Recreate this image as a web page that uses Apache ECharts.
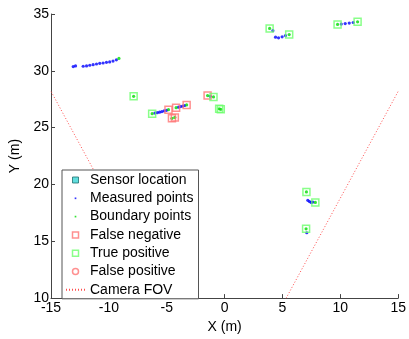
<!DOCTYPE html>
<html>
<head>
<meta charset="utf-8">
<script src="https://cdn.jsdelivr.net/npm/echarts@6/dist/echarts.min.js"></script>
<style>
  html, body { margin: 0; padding: 0; background: #fff; }
  #chart { width: 409px; height: 339px; }
</style>
</head>
<body>
<div id="chart"></div>
<script>
// axis ranges (m)
var xMin = -15, xMax = 15, xStep = 5;
var yMin = 10, yMax = 35, yStep = 5;

// legend / series names
var names = ['Sensor location', 'Measured points', 'Boundary points',
             'False negative', 'True positive', 'False positive', 'Camera FOV'];

// sensor is at the origin, below the visible area
var sensorLocation = [];

var measuredPoints = [
  [-13.08, 30.37], [-12.88, 30.43], [-12.22, 30.40], [-11.93, 30.43], [-11.65, 30.49],
  [-11.36, 30.54], [-11.07, 30.60], [-10.79, 30.66], [-10.50, 30.69], [-10.21, 30.75],
  [-9.93, 30.78], [-9.64, 30.86], [-9.35, 30.97],
  [-6.02, 26.28], [-5.82, 26.32], [-5.62, 26.36], [-5.42, 26.41], [-5.22, 26.47], [-5.02, 26.52],
  [-3.98, 26.80], [-3.80, 26.85], [-3.62, 26.90], [-3.45, 26.95],
  [-1.24, 27.76],
  [4.17, 33.53], [4.40, 32.96], [4.66, 32.90], [4.97, 32.99], [5.26, 33.10],
  [10.08, 34.11], [10.42, 34.16], [10.77, 34.20], [11.11, 34.25],
  [7.19, 18.60], [7.33, 18.50], [7.47, 18.42], [7.62, 18.45],
  [7.10, 15.75]
];

var boundaryPoints = [
  [-9.13, 31.09], [-7.86, 27.76], [-6.26, 26.23], [-4.85, 26.58], [-4.19, 26.76],
  [-3.28, 27.00], [-4.55, 25.82], [-4.30, 25.90], [-1.47, 27.82], [-0.96, 27.70],
  [-0.47, 26.66], [-0.33, 26.61], [3.89, 33.73], [5.58, 33.19], [9.76, 34.08],
  [11.49, 34.31], [7.07, 19.34], [7.84, 18.42], [7.04, 16.10]
];

var falseNegative = [
  [-4.85, 26.58], [-4.19, 26.76], [-3.28, 27.00], [-4.55, 25.82], [-4.30, 25.90], [-1.47, 27.82]
];

var truePositive = [
  [-7.86, 27.76], [-6.26, 26.23], [-0.96, 27.70], [-0.47, 26.66], [-0.33, 26.61],
  [3.89, 33.73], [5.58, 33.19], [9.76, 34.08], [11.49, 34.31],
  [7.07, 19.34], [7.84, 18.42], [7.04, 16.10]
];

var falsePositive = [];

// camera field of view edges, from the sensor outwards
var fovLeft = [[0, 0], [-15, 28.2]];
var fovRight = [[0, 0], [15, 28.2]];

var myChart = echarts.init(document.getElementById('chart'));

var font = 'Liberation Sans, Arial, sans-serif';
var squarePath = 'path://M0,0H10V10H0Z';
// small dot inside a 10x10 box (the moveTo points keep the box size)
var dotPath = 'path://M0,0M10,10M3.6,3.6H6.4V6.4H3.6Z';

var red = '#ff7474';
var green = '#6cff6c';

function hollow(color) {
  return { color: 'rgba(0,0,0,0)', borderColor: color, borderWidth: 1.5 };
}

var option = {
  animation: false,
  backgroundColor: '#fff',
  grid: { left: 51, right: 9, top: 14, bottom: 35 },
  xAxis: {
    type: 'value', min: xMin, max: xMax, interval: xStep,
    name: 'X (m)', nameLocation: 'middle', nameGap: 20,
    nameTextStyle: { fontFamily: font, fontSize: 14, color: '#000' },
    axisLine: { show: true, onZero: false, lineStyle: { color: '#444' } },
    axisTick: { show: true, inside: true, length: 4, lineStyle: { color: '#444' } },
    axisLabel: { fontFamily: font, fontSize: 14, color: '#000', margin: 3 },
    splitLine: { show: false }
  },
  yAxis: {
    type: 'value', min: yMin, max: yMax, interval: yStep,
    name: 'Y (m)', nameLocation: 'middle', nameGap: 21,
    nameTextStyle: { fontFamily: font, fontSize: 14, color: '#000' },
    axisLine: { show: true, onZero: false, lineStyle: { color: '#444' } },
    axisTick: { show: true, inside: true, length: 4, lineStyle: { color: '#444' } },
    axisLabel: { fontFamily: font, fontSize: 14, color: '#000', margin: 2 },
    splitLine: { show: false }
  },
  legend: {
    orient: 'vertical', left: 62, top: 170,
    padding: [3, 5, 2, 3], itemGap: 4.3,
    itemWidth: 19, itemHeight: 6,
    backgroundColor: '#fff', borderColor: '#555', borderWidth: 1,
    textStyle: { fontFamily: font, fontSize: 14, color: '#000' },
    data: [
      { name: names[0], icon: squarePath, itemStyle: { color: '#3ad6d6', borderColor: '#1f6f6f', borderWidth: 1 } },
      { name: names[1], icon: dotPath, itemStyle: { color: '#0000ff', borderWidth: 0 } },
      { name: names[2], icon: dotPath, itemStyle: { color: '#00dd00', borderWidth: 0 } },
      { name: names[3], icon: squarePath, itemStyle: hollow(red) },
      { name: names[4], icon: squarePath, itemStyle: hollow(green) },
      { name: names[5], icon: 'circle', itemStyle: hollow(red) },
      { name: names[6], itemStyle: { opacity: 0 } }
    ]
  },
  series: [
    {
      name: names[6], type: 'line', data: fovLeft, symbol: 'none', z: 1,
      lineStyle: { color: '#ff4d4d', width: 1, type: [1, 2] }
    },
    {
      name: names[6], type: 'line', data: fovRight, symbol: 'none', z: 1,
      lineStyle: { color: '#ff4d4d', width: 1, type: [1, 2] }
    },
    {
      name: names[0], type: 'scatter', data: sensorLocation, symbol: 'rect', symbolSize: 7,
      itemStyle: { color: '#3ad6d6', borderColor: '#1f6f6f', borderWidth: 1 }
    },
    {
      name: names[1], type: 'scatter', data: measuredPoints, symbol: 'circle', symbolSize: 3.2,
      itemStyle: { color: '#0000ff' }
    },
    {
      name: names[2], type: 'scatter', data: boundaryPoints, symbol: 'circle', symbolSize: 3.2,
      itemStyle: { color: '#00dd00' }
    },
    {
      name: names[3], type: 'scatter', data: falseNegative, symbol: 'rect', symbolSize: 7,
      itemStyle: hollow(red)
    },
    {
      name: names[4], type: 'scatter', data: truePositive, symbol: 'rect', symbolSize: 7,
      itemStyle: hollow(green)
    },
    {
      name: names[5], type: 'scatter', data: falsePositive, symbol: 'circle', symbolSize: 7,
      itemStyle: hollow(red)
    }
  ]
};

myChart.setOption(option);
</script>
</body>
</html>
